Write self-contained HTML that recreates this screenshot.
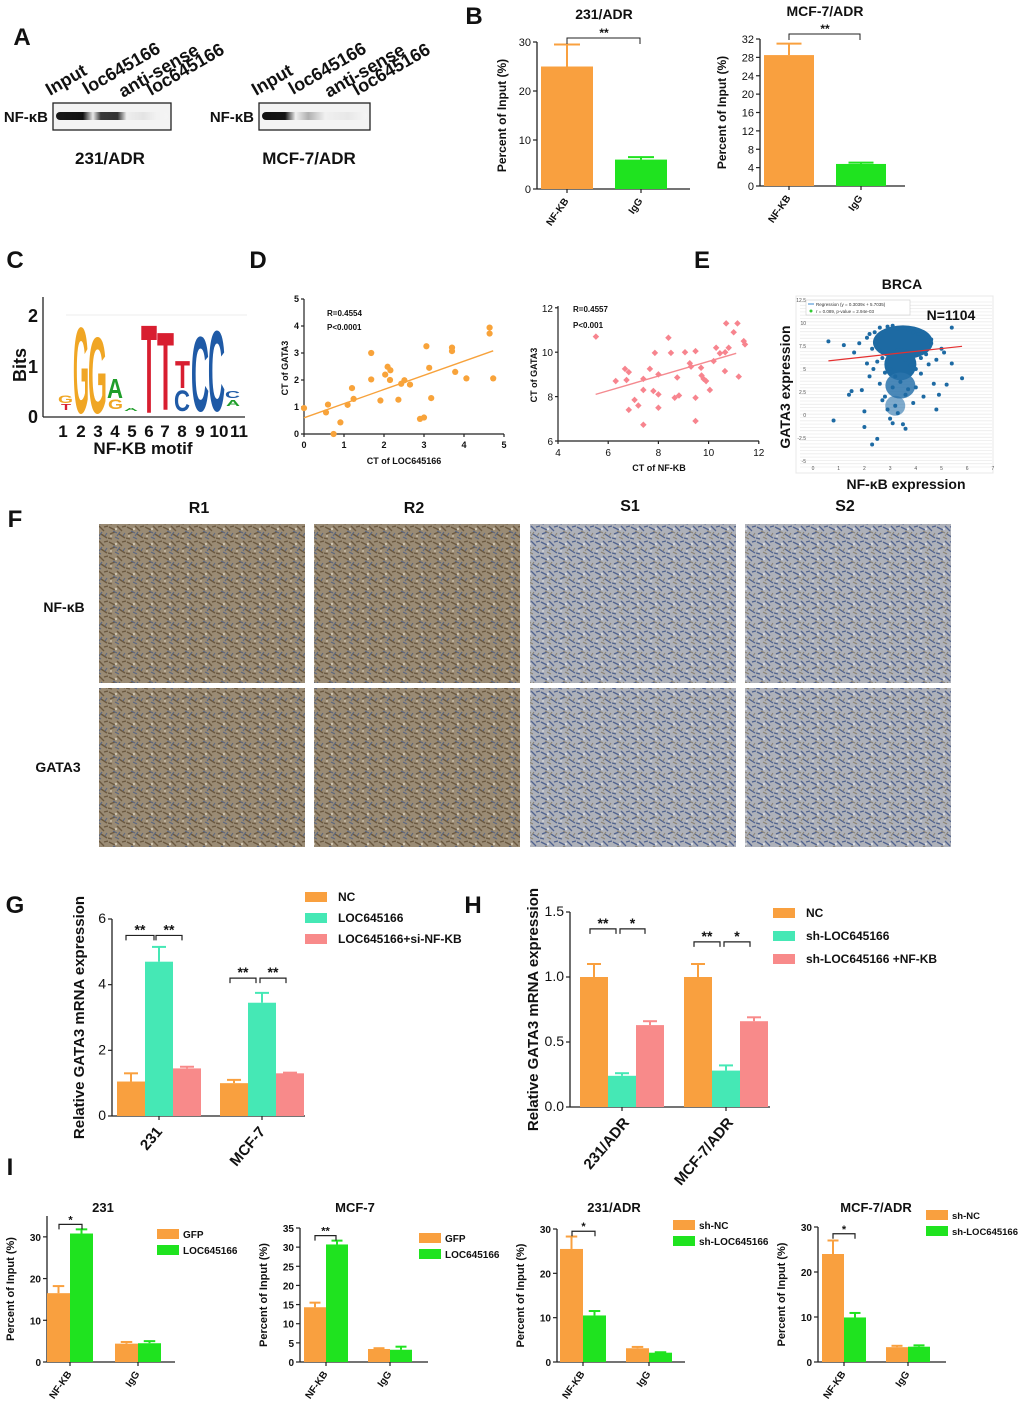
<!DOCTYPE html>
<html><head><meta charset="utf-8">
<style>
html,body{margin:0;padding:0;background:#fff;}
svg{display:block;font-family:"Liberation Sans",Arial,sans-serif;}
</style></head>
<body>
<svg id="fig" width="1020" height="1403" viewBox="0 0 1020 1403" xmlns="http://www.w3.org/2000/svg">
<defs>
<linearGradient id="band1" x1="0" x2="1" y1="0" y2="0">
<stop offset="0" stop-color="#1a1a1a"/><stop offset="0.24" stop-color="#111"/><stop offset="0.33" stop-color="#e8e8e8"/>
<stop offset="0.40" stop-color="#3a3a3a"/><stop offset="0.55" stop-color="#333"/><stop offset="0.63" stop-color="#eee"/>
<stop offset="0.78" stop-color="#e4e4e4"/><stop offset="0.9" stop-color="#f2f2f2"/><stop offset="1" stop-color="#f4f4f4"/>
</linearGradient>
<linearGradient id="band2" x1="0" x2="1" y1="0" y2="0">
<stop offset="0" stop-color="#111"/><stop offset="0.22" stop-color="#151515"/><stop offset="0.32" stop-color="#f0f0f0"/>
<stop offset="0.44" stop-color="#b0b0b0"/><stop offset="0.6" stop-color="#f0f0f0"/>
<stop offset="0.82" stop-color="#e8e8e8"/><stop offset="1" stop-color="#f6f6f6"/>
</linearGradient>
<pattern id="texR" width="18" height="15" patternUnits="userSpaceOnUse">
<rect width="18" height="15" fill="#9a8b74"/>
<path d="M1 2 l6 3 M9 1 l5 5 M2 9 l5 -2 M11 9 l6 4 M0 13 l4 1 M14 2 l4 -1" stroke="#6a5840" stroke-width="1.4"/>
<path d="M5 6 l4 2 M12 7 l-3 4 M15 11 l2 -3 M7 12 l4 2" stroke="#5a6680" stroke-width="1.1"/>
<circle cx="8" cy="4" r="1.2" fill="#cfc5b2"/><circle cx="3" cy="11" r="1" fill="#c8bda8"/>
</pattern>
<pattern id="texS" width="18" height="15" patternUnits="userSpaceOnUse">
<rect width="18" height="15" fill="#aeb1b9"/>
<path d="M1 2 l6 3 M9 1 l5 5 M2 9 l5 -2 M11 9 l6 4 M0 13 l4 1 M14 2 l4 -1" stroke="#50628e" stroke-width="1.3"/>
<path d="M5 6 l4 2 M12 7 l-3 4 M15 11 l2 -3 M7 12 l4 2" stroke="#8a8272" stroke-width="1"/>
<circle cx="8" cy="4" r="1.2" fill="#d8dbe0"/><circle cx="3" cy="11" r="1" fill="#d2d5da"/>
</pattern>
</defs>
</svg>
<script>
// ===== DATA =====
const B1_cats=['NF-KB','IgG']; const B1_vals=[25,6]; const B1_errs=[29.5,6.5];
const B1_ticks=[0,10,20,30];
const B2_cats=['NF-KB','IgG']; const B2_vals=[28.5,4.8]; const B2_errs=[31,5.1];
const B2_ticks=[0,4,8,12,16,20,24,28,32];

const D1_x=[0,0.55,0.6,0.74,0.91,1.09,1.2,1.24,1.68,1.68,1.91,2.03,2.09,2.15,2.16,2.36,2.43,2.51,2.65,2.9,3.0,3.06,3.13,3.18,3.7,3.7,3.78,4.06,4.64,4.64,4.73];
const D1_y=[0.96,0.8,1.09,0,0.43,1.08,1.7,1.3,3.0,2.02,1.24,2.2,2.49,2.0,2.36,1.27,1.86,1.99,1.83,0.56,0.61,3.25,2.45,1.33,3.2,3.07,2.3,2.06,3.94,3.72,2.06];
const D1_fit=[0.6,3.08];
const D1_xticks=[0,1,2,3,4,5]; const D1_yticks=[0,1,2,3,4,5];

const D2_x=[5.51,6.3,6.67,6.82,6.73,6.82,7.05,7.2,7.4,7.4,7.4,7.66,7.8,7.86,8.0,8.0,8.0,8.4,8.5,8.65,8.75,8.82,9.06,9.25,9.3,9.48,9.48,9.48,9.7,9.72,9.8,9.9,10.05,10.2,10.3,10.45,10.65,10.66,10.7,10.8,11.0,11.15,11.2,11.4,11.45];
const D2_y=[10.7,8.7,9.25,9.1,8.75,7.4,7.85,7.6,8.8,8.3,6.73,9.25,8.25,9.97,8.1,9.0,7.5,10.65,9.97,7.95,8.86,8.05,10.0,9.5,9.35,10.05,7.95,6.9,9.3,8.95,8.8,8.7,8.3,9.6,10.2,9.95,9.15,10.0,11.3,10.2,10.9,11.3,8.9,10.5,10.35];
const D2_fit=[8.1,9.95];
const D2_xticks=[4,6,8,10,12]; const D2_yticks=[6,8,10,12];

const E_x=[0.6,0.8,1.2,1.4,1.5,1.6,1.8,2.0,2.0,2.1,2.2,2.3,2.35,2.5,2.6,2.7,2.8,2.9,3.0,3.1,3.2,3.3,3.5,3.6,3.6,3.7,3.9,4.0,4.2,4.3,4.5,4.7,4.8,4.9,5.0,5.2,5.4,5.4,5.8,2.4,2.6,2.9,3.1,3.3,3.5,3.7,3.9,4.1,2.7,3.0,3.2,3.4,3.8,4.4,2.2,4.6,1.9,5.1,2.1,2.3,4.6,4.8,4.4,2.5,2.8,3.1,3.6,4.0,4.2,2.6];
const E_y=[8.0,-0.6,7.6,2.2,2.6,6.8,7.8,0.4,-1.3,5.6,4.2,-3.2,5.0,-2.6,3.4,1.6,2.0,0.6,-0.4,-0.9,1.0,0.2,-1.0,-1.5,6.0,2.8,1.3,3.0,4.5,2.0,5.5,3.4,0.6,2.2,7.2,3.3,9.5,5.6,4.0,9.0,9.5,9.6,9.7,9.4,9.5,9.3,9.0,8.8,6.2,5.0,4.2,3.6,5.4,6.6,8.8,8.2,2.7,6.8,8.4,7.2,7.8,6.0,8.6,5.8,4.6,3.0,2.2,5.0,6.2,7.0];
const E_fit=[5.7035,0.3039];
const E_xticks=[0,1,2,3,4,5,6,7]; const E_yticks=[-5,-2.5,0,2.5,5,7.5,10,12.5];

const G_cats=['231','MCF-7']; const G_series=['NC','LOC645166','LOC645166+si-NF-KB'];
const G_nc=[1.05,1.0]; const G_loc=[4.7,3.45]; const G_si=[1.45,1.3];
const G_nc_err=[1.3,1.1]; const G_loc_err=[5.15,3.75]; const G_si_err=[1.5,1.32];
const G_ticks=[0,2,4,6];

const H_cats=['231/ADR','MCF-7/ADR']; const H_series=['NC','sh-LOC645166','sh-LOC645166 +NF-KB'];
const H_nc=[1.0,1.0]; const H_sh=[0.24,0.28]; const H_nf=[0.63,0.66];
const H_nc_err=[1.1,1.1]; const H_sh_err=[0.26,0.32]; const H_nf_err=[0.66,0.69];
const H_ticks=[0,0.5,1.0,1.5];

const I_cats=['NF-KB','IgG'];
const I1_a=[16.5,4.4]; const I1_b=[30.8,4.5]; const I1_aerr=[18.2,4.8]; const I1_berr=[31.8,5.0];
const I2_a=[14.3,3.4]; const I2_b=[30.7,3.2]; const I2_aerr=[15.5,3.6]; const I2_berr=[31.7,4.0];
const I3_a=[25.5,3.1]; const I3_b=[10.5,2.1]; const I3_aerr=[28.3,3.4]; const I3_berr=[11.5,2.2];
const I4_a=[24.0,3.3]; const I4_b=[9.9,3.4]; const I4_aerr=[27.0,3.6]; const I4_berr=[10.9,3.7];
const I1_ticks=[0,10,20,30]; const I2_ticks=[0,5,10,15,20,25,30,35];
const I3_ticks=[0,10,20,30]; const I4_ticks=[0,10,20,30];

// ===== HELPERS =====
const NS='http://www.w3.org/2000/svg';
const svg=document.getElementById('fig');
function mk(tag,attrs,name,parent){
  const el=document.createElementNS(NS,tag);
  for(const k in attrs) el.setAttribute(k,attrs[k]);
  
  
  (parent||svg).appendChild(el);
  return el;
}
function txt(x,y,s,size,name,o){
  o=o||{};
  const a={x:x,y:y,'font-size':size,'font-weight':o.w||'bold','text-anchor':o.a||'middle',fill:o.fill||'#111'};
  if(o.rot!==undefined) a.transform='rotate('+o.rot+' '+x+' '+y+')';
  const t=mk('text',a,name,o.p);
  t.textContent=s;
  return t;
}
function line(x1,y1,x2,y2,name,c,w){return mk('line',{x1:x1,y1:y1,x2:x2,y2:y2,stroke:c||'#222','stroke-width':w||1.2},name);}

const ORANGE='#f9a03f', GREEN='#1fe31f', TEAL='#45e8b5', PINK='#f88a8a';

function barChart(cfg){
  const k=(cfg.y0-cfg.yTop)/cfg.vmax;
  const Y=v=>cfg.y0-v*k;
  line(cfg.ax,cfg.yTop,cfg.ax,cfg.y0,cfg.id+'-y-axis','#222',1.3);
  line(cfg.ax,cfg.y0,cfg.axEnd,cfg.y0,cfg.id+'-x-axis','#222',1.3);
  cfg.ticks.forEach(t=>{
    line(cfg.ax-4,Y(t),cfg.ax,Y(t),cfg.id+'-y-tick','#222',1.2);
    txt(cfg.ax-6,Y(t)+4,cfg.fmt?cfg.fmt(t):String(t),cfg.tfs||11,cfg.id+'-y-tick-label',{a:'end',w:cfg.tw||'normal'});
  });
  cfg.series.forEach((s,si)=>{
    s.vals.forEach((v,gi)=>{
      const x=cfg.gx[gi]+si*cfg.bw;
      const col=s.colors?s.colors[gi]:s.color;
      mk('rect',{x:x,y:Y(v),width:cfg.bw,height:v*k,fill:col},cfg.id+'-bar-'+cfg.cats[gi]+'-'+si);
      if(s.errs){
        const cx=x+cfg.bw/2;
        line(cx,Y(v),cx,Y(s.errs[gi]),cfg.id+'-error-bar',col,2);
        line(cx-cfg.bw*0.25,Y(s.errs[gi]),cx+cfg.bw*0.25,Y(s.errs[gi]),cfg.id+'-error-cap',col,2);
      }
    });
  });
  const n=cfg.series.length;
  cfg.cats.forEach((c,gi)=>{
    const cx=cfg.gx[gi]+(cfg.gw||n*cfg.bw)/2;
    line(cx,cfg.y0,cx,cfg.y0+4,cfg.id+'-x-tick','#222',1.2);
    txt(cx+(cfg.lox||4),cfg.y0+(cfg.loy||14),c,cfg.cfs||11,cfg.id+'-x-label',{a:'end',rot:cfg.crot||-55});
  });
  if(cfg.ytitle) txt(cfg.ytx,(cfg.yTop+cfg.y0)/2,cfg.ytitle,cfg.ytfs||11,cfg.id+'-y-axis-title',{rot:-90});
  if(cfg.title) txt(cfg.title[0],cfg.title[1],cfg.title[2],cfg.title[3]||13,cfg.id+'-title');
  (cfg.sig||[]).forEach(s=>{
    const yy=Y(s.v);
    mk('path',{d:'M'+s.x1+' '+(yy+5)+' V'+yy+' H'+s.x2+' V'+(yy+5),fill:'none',stroke:'#222','stroke-width':1.2},cfg.id+'-significance-bracket');
    txt((s.x1+s.x2)/2,yy-1,s.t,cfg.sfs||12,cfg.id+'-significance-label');
  });
  return Y;
}
function legend(x,y,dy,items,name,fs,tx){
  items.forEach((it,i)=>{
    mk('rect',{x:x,y:y+i*dy-5,width:22,height:10,fill:it[1]},name+'-swatch');
    txt(x+(tx||28),y+i*dy+4,it[0],fs||12,name+'-entry',{a:'start'});
  });
}

// ===== PANEL LETTERS =====
[['A',22,45],['B',474,24],['C',15,268],['D',258,268],['E',702,268],['F',15,527],['G',15,913],['H',473,913],['I',10,1175]].forEach(p=>{
  txt(p[1],p[2],p[0],24,'panel-label-'+p[0]);
});

// ===== A =====
function blot(x0,w,grad,title,tx,name){
  txt(x0-5,122,'NF-κB',15,name+'-row-label',{a:'end'});
  mk('rect',{x:x0,y:103,width:w,height:27,fill:'#f3f3f3',stroke:'#222','stroke-width':1.3},name+'-frame');
  mk('rect',{x:x0+3,y:112,width:w-6,height:8,rx:4,fill:'url(#'+grad+')'},name+'-band');
  txt(tx,164,title,17,name+'-title');
  const lanes=[['Input',x0-3,96],['loc645166',x0+34,95],['anti-sense',x0+70,98],['loc645166',x0+98,96]];
  lanes.forEach(l=>txt(l[1],l[2],l[0],18,name+'-lane-label',{a:'start',rot:-30}));
}
blot(53,118,'band1','231/ADR',110,'blot-231adr');
blot(259,111,'band2','MCF-7/ADR',309,'blot-mcf7adr');

// ===== B =====
barChart({id:'b1',ax:537,axEnd:690,y0:189,yTop:42,vmax:30,ticks:B1_ticks,cats:B1_cats,gx:[541,615],bw:52,
  series:[{vals:B1_vals,errs:B1_errs,colors:[ORANGE,GREEN]}],cfs:10,lox:2,loy:12,
  ytitle:'Percent of Input (%)',ytx:506,ytfs:12,title:[604,19,'231/ADR',14]});
mk('path',{d:'M567 44 V38 H640 V44',fill:'none',stroke:'#222','stroke-width':1},'b1-significance-bracket');
txt(604,37,'**',12,'b1-significance-label');

barChart({id:'b2',ax:760,axEnd:905,y0:186,yTop:39,vmax:32,ticks:B2_ticks,cats:B2_cats,gx:[764,836],bw:50,
  series:[{vals:B2_vals,errs:B2_errs,colors:[ORANGE,GREEN]}],cfs:10,lox:2,loy:12,
  ytitle:'Percent of Input (%)',ytx:726,ytfs:12,title:[825,16,'MCF-7/ADR',14]});
mk('path',{d:'M789 40 V34 H860 V40',fill:'none',stroke:'#222','stroke-width':1},'b2-significance-bracket');
txt(825,33,'**',12,'b2-significance-label');

// ===== C: motif logo =====
line(43,297,43,417,'motif-y-axis','#222',1.3);
line(43,417,245,417,'motif-x-axis','#222',1.3);
txt(38,322,'2',18,'motif-y-tick-label',{a:'end'});
txt(38,373,'1',18,'motif-y-tick-label',{a:'end'});
txt(38,423,'0',18,'motif-y-tick-label',{a:'end'});
txt(26,365,'Bits',18,'motif-y-axis-title',{rot:-90});
line(66,315,247,315,'motif-top-line','#eee',1);
function letter(ch,x,w,yb,h,col){
  mk('text',{x:0,y:0,'font-size':100,'font-weight':'bold',fill:col,textLength:w,lengthAdjust:'spacingAndGlyphs',
    transform:'translate('+x+' '+yb+') scale(1 '+(h/72)+')'},'motif-letter-'+ch).textContent=ch;
}
const OR='#f0a624',GR='#1f9e2a',RD='#d81e30',BL='#1f5aa6';
letter('G',58,15,403,8,OR); letter('T',61,10,410,6,RD);
letter('G',73,16,413,88,OR);
letter('G',88,19,413,78,OR);
letter('A',107,16,398,20,GR); letter('G',108,15,409,10,OR);
letter('A',124,14,411,3,GR);
letter('T',141,16,413,91,RD);
letter('T',157,17,410,80,RD);
letter('T',175,15,388,28,RD); letter('C',174,16,411,21,BL);
letter('C',191,18,411,77,BL);
letter('C',208,17,411,83,BL);
letter('C',225,15,398,7,BL); letter('A',226,14,406,6,GR);
['1','2','3','4','5','6','7','8','9','10','11'].forEach((n,i)=>{
  const xs=[63,81,98,115,132,149,165,182,200,219,239];
  txt(xs[i],437,n,17,'motif-position-label');
});
txt(143,454,'NF-KB motif',17,'motif-x-axis-title');

// ===== D1 =====
(function(){
  const X=v=>304+v*40, Y=v=>434-v*27;
  line(304,299,304,434,'d1-y-axis','#222',1.2); line(304,434,504,434,'d1-x-axis','#222',1.2);
  D1_xticks.forEach(t=>{line(X(t),434,X(t),437,'d1-x-tick');txt(X(t),448,String(t),9,'d1-x-tick-label');});
  D1_yticks.forEach(t=>{line(301,Y(t),304,Y(t),'d1-y-tick');txt(299,Y(t)+3,String(t),9,'d1-y-tick-label',{a:'end'});});
  line(X(0),Y(D1_fit[0]),X(4.73),Y(D1_fit[1]),'d1-regression-line','#f7a23c',1.4);
  D1_x.forEach((x,i)=>mk('circle',{cx:X(x),cy:Y(D1_y[i]),r:3.1,fill:'#f8a33a'},'d1-point'));
  txt(404,464,'CT of LOC645166',9,'d1-x-axis-title');
  txt(288,368,'CT of GATA3',9,'d1-y-axis-title',{rot:-90});
  txt(327,316,'R=0.4554',8,'d1-r-value',{a:'start'});
  txt(327,330,'P<0.0001',8,'d1-p-value',{a:'start'});
})();
// ===== D2 =====
(function(){
  const X=v=>558+(v-4)*25.1, Y=v=>441-(v-6)*22.2;
  line(558,306,558,441,'d2-y-axis','#222',1.2); line(558,441,759,441,'d2-x-axis','#222',1.2);
  D2_xticks.forEach(t=>{line(X(t),441,X(t),444,'d2-x-tick');txt(X(t),456,String(t),10,'d2-x-tick-label',{w:'normal'});});
  D2_yticks.forEach(t=>{line(555,Y(t),558,Y(t),'d2-y-tick');txt(553,Y(t)+4,String(t),10,'d2-y-tick-label',{a:'end',w:'normal'});});
  line(X(5.5),Y(D2_fit[0]),X(11.1),Y(D2_fit[1]),'d2-regression-line','#f48a90',1.4);
  D2_x.forEach((x,i)=>mk('rect',{x:X(x)-2.3,y:Y(D2_y[i])-2.3,width:4.6,height:4.6,fill:'#f7848e',transform:'rotate(45 '+X(x)+' '+Y(D2_y[i])+')'},'d2-point'));
  txt(659,471,'CT of NF-KB',9,'d2-x-axis-title');
  txt(537,375,'CT of GATA3',9,'d2-y-axis-title',{rot:-90});
  txt(573,312,'R=0.4557',8,'d2-r-value',{a:'start'});
  txt(573,328,'P<0.001',8,'d2-p-value',{a:'start'});
})();

// ===== E =====
(function(){
  const X=v=>813+v*25.7, Y=v=>300+(12.5-v)*9.2;
  mk('rect',{x:796,y:296,width:197,height:177,fill:'#fff',stroke:'#e8e8e8'},'e-plot-area');
  for(let yy=302;yy<470;yy+=3.3) line(800,yy,992,yy,'e-gridline','#ececec',0.8);
  E_yticks.forEach(t=>txt(806,Y(t)+2,String(t),5,'e-y-tick-label',{a:'end',w:'normal',fill:'#555'}));
  E_xticks.forEach(t=>txt(X(t),470,String(t),5,'e-x-tick-label',{w:'normal',fill:'#555'}));
  mk('ellipse',{cx:X(3.5),cy:Y(7.9),rx:30,ry:17,fill:'#1d6aa3'},'e-dense-cluster');
  mk('ellipse',{cx:X(3.4),cy:Y(5.5),rx:16,ry:16,fill:'#1d6aa3'},'e-dense-cluster-tail');
  mk('ellipse',{cx:X(3.4),cy:Y(3.2),rx:15,ry:13,fill:'#2a73ab',opacity:0.85},'e-cluster-lower');
  mk('ellipse',{cx:X(3.2),cy:Y(1.0),rx:10,ry:10,fill:'#2a73ab',opacity:0.6},'e-cluster-bottom');
  E_x.forEach((x,i)=>mk('circle',{cx:X(x),cy:Y(E_y[i]),r:2,fill:'#1d6aa3'},'e-point'));
  line(X(0.6),Y(E_fit[0]+E_fit[1]*0.6),X(5.8),Y(E_fit[0]+E_fit[1]*5.8),'e-regression-line','#e53030',1.2);
  mk('rect',{x:806,y:300,width:104,height:15,fill:'#fff',stroke:'#ccc','stroke-width':0.6},'e-legend-box');
  line(808,304,814,304,'e-legend-line','#3a8ad0',1);
  txt(816,306,'Regression (y = 0.3039x + 5.7035)',4.5,'e-legend-regression',{a:'start',w:'normal',fill:'#333'});
  mk('circle',{cx:811,cy:311,r:1.5,fill:'#3c3'},'e-legend-dot');
  txt(816,313,'r = 0.089, p-value = 2.94e-03',4.5,'e-legend-stat',{a:'start',w:'normal',fill:'#333'});
  txt(951,320,'N=1104',14,'e-n-label');
  txt(902,289,'BRCA',14,'e-title');
  txt(790,387,'GATA3 expression',14,'e-y-axis-title',{rot:-90});
  txt(906,489,'NF-κB expression',14,'e-x-axis-title');
})();

// ===== F =====
(function(){
  const cols=[[99,'R1','texR'],[314,'R2','texR'],[530,'S1','texS'],[745,'S2','texS']];
  const rows=[[524,'NF-κB'],[688,'GATA3']];
  cols.forEach(c=>{
    txt(c[0]+100,c[1][0]==='R'?513:511,c[1],16,'ihc-column-label-'+c[1]);
    rows.forEach(r=>mk('rect',{x:c[0],y:r[0],width:206,height:159,fill:'url(#'+c[2]+')'},'ihc-image-'+c[1]+'-'+r[1]));
  });
  txt(64,612,'NF-κB',14,'ihc-row-label-nfkb');
  txt(58,772,'GATA3',14,'ihc-row-label-gata3');
})();

// ===== G =====
barChart({id:'g',ax:112,axEnd:305,y0:1116,yTop:919,vmax:6,ticks:G_ticks,cats:G_cats,gx:[117,220],bw:28,
  series:[{vals:G_nc,errs:G_nc_err,color:ORANGE},{vals:G_loc,errs:G_loc_err,color:TEAL},{vals:G_si,errs:G_si_err,color:PINK}],
  tfs:14,tw:'normal',cfs:15,lox:4,loy:16,crot:-50,ytitle:'Relative GATA3 mRNA expression',ytx:84,ytfs:15,
  sig:[{x1:126,x2:154,v:5.5,t:'**'},{x1:156,x2:182,v:5.5,t:'**'},{x1:230,x2:256,v:4.2,t:'**'},{x1:260,x2:286,v:4.2,t:'**'}],sfs:14});
legend(305,897,21,[[G_series[0],ORANGE],[G_series[1],TEAL],[G_series[2],PINK]],'g-legend',12,33);

// ===== H =====
barChart({id:'h',ax:570,axEnd:770,y0:1107,yTop:912,vmax:1.5,ticks:H_ticks,fmt:t=>t.toFixed(1),cats:H_cats,gx:[580,684],bw:28,
  series:[{vals:H_nc,errs:H_nc_err,color:ORANGE},{vals:H_sh,errs:H_sh_err,color:TEAL},{vals:H_nf,errs:H_nf_err,color:PINK}],
  tfs:14,tw:'normal',cfs:15,lox:8,loy:16,crot:-50,ytitle:'Relative GATA3 mRNA expression',ytx:538,ytfs:15,
  sig:[{x1:590,x2:616,v:1.37,t:'**'},{x1:620,x2:645,v:1.37,t:'*'},{x1:694,x2:720,v:1.27,t:'**'},{x1:724,x2:750,v:1.27,t:'*'}],sfs:14});
legend(773,913,23,[[H_series[0],ORANGE],[H_series[1],TEAL],[H_series[2],PINK]],'h-legend',12,33);

// ===== I =====
function iChart(id,ax,top,vmax,ticks,a,b,ae,be,gx,bw,title,tx,leg,lx,ly,sig,lfs){
  barChart({id:id,ax:ax,axEnd:ax+128,y0:1362,yTop:top,vmax:vmax,ticks:ticks,cats:I_cats,gx:gx,bw:bw,
    series:[{vals:a,errs:ae,color:ORANGE},{vals:b,errs:be,color:GREEN}],tfs:10,tw:'bold',cfs:10,lox:2,loy:12,crot:-55,
    ytitle:'Percent of Input (%)',ytx:ax-33,ytfs:11,title:[tx,1212,title,13],sig:[sig],sfs:11});
  legend(lx,ly,16,leg,id+'-legend',lfs||10,26);
}
iChart('i1',47,1216,35,I1_ticks,I1_a,I1_b,I1_aerr,I1_berr,[47,115],23,'231',103,[['GFP',ORANGE],['LOC645166',GREEN]],157,1234,{x1:59,x2:82,v:33,t:'*'});
iChart('i2',300,1228,35,I2_ticks,I2_a,I2_b,I2_aerr,I2_berr,[304,368],22,'MCF-7',355,[['GFP',ORANGE],['LOC645166',GREEN]],419,1238,{x1:315,x2:336,v:33,t:'**'});
iChart('i3',557,1229,30,I3_ticks,I3_a,I3_b,I3_aerr,I3_berr,[560,626],23,'231/ADR',614,[['sh-NC',ORANGE],['sh-LOC645166',GREEN]],673,1225,{x1:572,x2:595,v:29.5,t:'*'});
iChart('i4',818,1227,30,I4_ticks,I4_a,I4_b,I4_aerr,I4_berr,[822,886],22,'MCF-7/ADR',876,[['sh-NC',ORANGE],['sh-LOC645166',GREEN]],926,1215,{x1:833,x2:855,v:28.5,t:'*'},9.5);
</script>
</body></html>
